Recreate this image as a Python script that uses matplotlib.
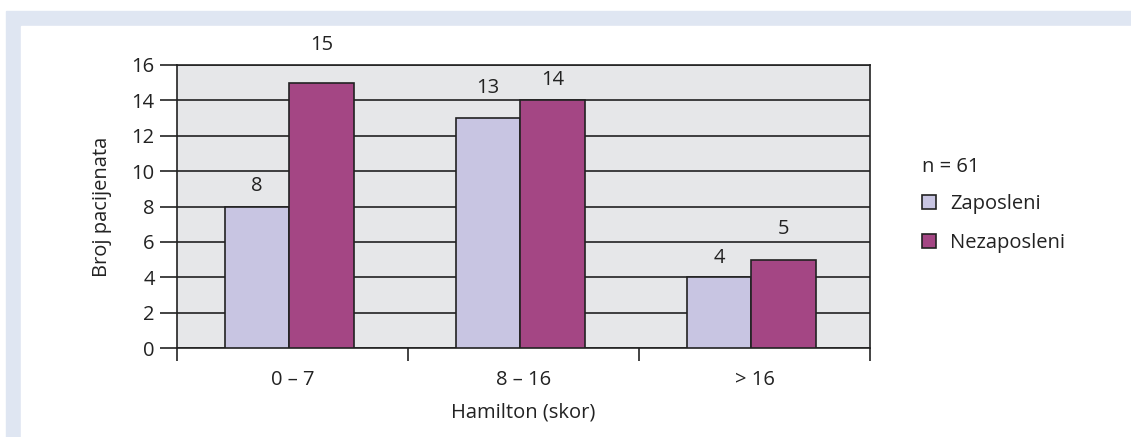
import matplotlib.pyplot as plt
import numpy as np
from matplotlib.patches import Rectangle

plt.rcParams['font.family'] = ['Open Sans', 'DejaVu Sans']

kategorije = ["0 – 7", "8 – 16", "> 16"]
zaposleni = [8, 13, 4]
nezaposleni = [15, 14, 5]

# pomak natpisa iznad stupaca (u točkama)
pomak_z = [15, 22, 14]
pomak_n = [27, 15, 22]

tekst = "#222222"
fs = 14.5

fig = plt.figure(figsize=(11.31, 4.37), dpi=100)

# okvir (svijetlo plava traka gore i lijevo)
okvir = "#dfe6f2"
fig.patches.append(Rectangle((6 / 1131, 0), 1 - 6 / 1131, 1 - 11 / 437,
                             transform=fig.transFigure, color=okvir, zorder=-10))
fig.patches.append(Rectangle((21 / 1131, 0), 1 - 21 / 1131, 1 - 26 / 437,
                             transform=fig.transFigure, color="white", zorder=-9))

ax = fig.add_axes([177 / 1131, 89 / 437, 693 / 1131, 283 / 437])
ax.set_facecolor("#e6e7e9")

x = np.arange(len(kategorije)) - 0.013
w = 0.28
b1 = ax.bar(x - w / 2, zaposleni, w, color="#c8c5e2", edgecolor=tekst,
            linewidth=1.2, label="Zaposleni", zorder=3)
b2 = ax.bar(x + w / 2, nezaposleni, w, color="#a44684", edgecolor=tekst,
            linewidth=1.2, label="Nezaposleni", zorder=3)

for bars, pomak in ((b1, pomak_z), (b2, pomak_n)):
    for r, p in zip(bars, pomak):
        ax.annotate(f"{r.get_height():g}",
                    (r.get_x() + r.get_width() / 2, r.get_height()),
                    xytext=(0, p), textcoords="offset points",
                    ha="center", va="center", fontsize=fs, color=tekst,
                    annotation_clip=False)

ax.set_xlim(-0.5, 2.5)
ax.set_ylim(0, 16)
ax.set_yticks(range(0, 17, 2))
ax.set_xticks([-0.5, 0.5, 1.5, 2.5], minor=False)
ax.set_xticklabels([])
ax.set_xticks(np.arange(len(kategorije)), minor=True)
ax.set_xticklabels(kategorije, minor=True, fontsize=fs, color=tekst)
ax.tick_params(axis="x", which="minor", length=0, pad=16)
ax.tick_params(axis="x", which="major", length=9, width=1.2, direction="out",
               color=tekst)
ax.tick_params(axis="y", length=12, width=1.2, color=tekst,
               labelsize=fs, labelcolor=tekst, pad=4)

ax.grid(axis="y", color=tekst, linewidth=1.2, zorder=1)
ax.set_axisbelow(True)
for s in ax.spines.values():
    s.set_color(tekst)
    s.set_linewidth(1.2)

ax.set_ylabel("Broj pacijenata", fontsize=fs, color=tekst, labelpad=14)
ax.set_xlabel("Hamilton (skor)", fontsize=fs, color=tekst, labelpad=9)

leg = ax.legend(title="n = 61", loc="upper left", bbox_to_anchor=(1.06, 0.71),
                frameon=False, fontsize=fs, title_fontsize=fs,
                handlelength=0.7, handleheight=0.7, handletextpad=0.7,
                labelspacing=0.95, borderpad=0)
leg._legend_box.align = "left"
leg._legend_box.sep = 12
for t in leg.get_texts():
    t.set_color(tekst)
leg.get_title().set_color(tekst)

fig.savefig("out.png", dpi=100)
